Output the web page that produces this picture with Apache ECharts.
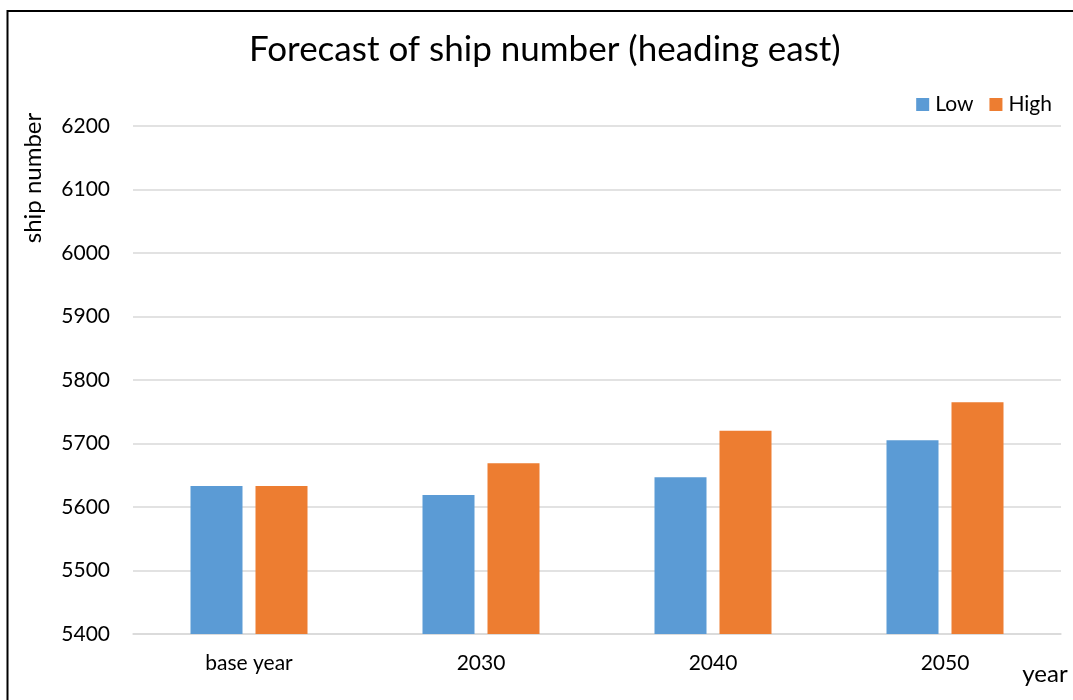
<!DOCTYPE html>
<html>
<head>
<meta charset="utf-8">
<script src="https://cdn.jsdelivr.net/npm/echarts@6/dist/echarts.min.js"></script>
<style>
  html, body { margin: 0; padding: 0; background: #fff; }
  #chart { width: 1073px; height: 700px; }
</style>
</head>
<body>
<div id="chart"></div>
<script>
// Forecast of eastbound ship numbers, low and high scenarios
const categories = ['base year', '2030', '2040', '2050'];
const lowValues = [5633, 5619, 5647, 5705];
const highValues = [5633, 5669, 5720, 5765];
const yTicks = { min: 5400, max: 6200, interval: 100 };

const FONT = 'Lato, "Noto Sans", sans-serif';
const chart = echarts.init(document.getElementById('chart'));

chart.setOption({
  backgroundColor: '#ffffff',
  animation: false,
  textStyle: { fontFamily: FONT },
  title: {
    text: 'Forecast of ship number (heading east)',
    left: 244,
    top: 27,
    textStyle: { fontFamily: FONT, fontSize: 35, fontWeight: 'normal', color: '#000' }
  },
  legend: {
    right: 16,
    top: 89,
    itemWidth: 13,
    itemHeight: 13,
    itemGap: 16,
    icon: 'rect',
    textStyle: { fontFamily: FONT, fontSize: 21, color: '#000', padding: [0, 0, 0, 1] },
    data: ['Low', 'High']
  },
  grid: { left: 133, right: 12, top: 126, bottom: 66, outerBoundsMode: 'none' },
  xAxis: {
    type: 'category',
    data: categories,
    axisLine: { lineStyle: { color: '#d9d9d9', width: 1.5 } },
    axisTick: { show: false },
    axisLabel: { fontFamily: FONT, fontSize: 21, color: '#000', margin: 19 }
  },
  yAxis: {
    type: 'value',
    min: yTicks.min,
    max: yTicks.max,
    interval: yTicks.interval,
    axisLine: { show: false },
    axisTick: { show: false },
    axisLabel: { fontFamily: FONT, fontSize: 21, color: '#000', margin: 23, formatter: v => String(v) },
    splitLine: { lineStyle: { color: '#d9d9d9', width: 1.5 } }
  },
  series: [
    {
      name: 'Low',
      type: 'bar',
      data: lowValues,
      barWidth: 52,
      barGap: '25%',
      itemStyle: { color: '#5b9bd5' }
    },
    {
      name: 'High',
      type: 'bar',
      data: highValues,
      barWidth: 52,
      barGap: '25%',
      itemStyle: { color: '#ed7d31' }
    }
  ],
  graphic: [
    {
      type: 'rect',
      shape: { x: 7.5, y: 11, width: 1100, height: 720 },
      style: { fill: 'none', stroke: '#000', lineWidth: 2 },
      silent: true
    },
    {
      // y-axis title, rotated
      type: 'text',
      x: 33,
      y: 178,
      rotation: Math.PI / 2,
      style: {
        text: 'ship number',
        fontFamily: FONT,
        fontSize: 24,
        fill: '#000',
        align: 'center',
        verticalAlign: 'middle'
      },
      silent: true
    },
    {
      // x-axis title
      type: 'text',
      x: 1045,
      y: 674,
      style: {
        text: 'year',
        fontFamily: FONT,
        fontSize: 24,
        fill: '#000',
        align: 'center',
        verticalAlign: 'middle'
      },
      silent: true
    }
  ]
});
</script>
</body>
</html>
